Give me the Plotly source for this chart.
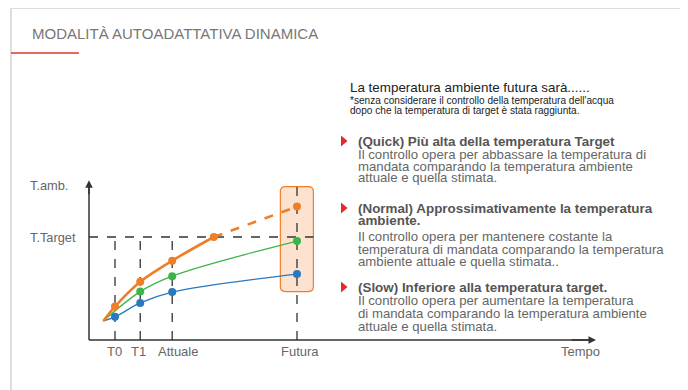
import plotly.graph_objects as go

# time positions (arbitrary units) and ambient temperature (arbitrary units, target = 10)
t_start = 0.55
t_labels = ['T0', 'T1', 'Attuale', 'Futura']
t_points = [1.0, 1.97, 3.2, 8.0]
t_cross = 4.8
t_target = 10.0

quick_t = [t_start, 1.0, 1.97, 3.2, 4.8]
quick_y = [1.85, 3.25, 5.65, 7.7, 10.0]
quick_future_t = [4.8, 8.0]
quick_future_y = [10.0, 12.95]

normal_t = [t_start, 1.97, 3.2, 8.0]
normal_y = [1.85, 4.7, 6.2, 9.6]

slow_t = [t_start, 1.0, 1.97, 3.2, 8.0]
slow_y = [1.85, 2.25, 3.6, 4.65, 6.4]

ORANGE = '#f07e26'
GREEN = '#3bb54a'
BLUE = '#2a78bd'
DARK = '#333333'
GREY = '#666666'
FONT = 'Liberation Sans, Arial, sans-serif'

OFF = 8                    # the page body adds an 8px margin
W, H = 688 - OFF, 390 - OFF
X0, Y0 = 89, 340           # pixel position of the axes origin (window coords)
SX, SY = 26.0, 10.3        # pixels per unit


def px(x):
    return (x - OFF) / W


def py(y):
    return 1 - (y - OFF) / H


fig = go.Figure()

fig.add_trace(go.Scatter(x=normal_t, y=normal_y, mode='lines', line=dict(color=GREEN, width=1.3, shape='spline'),
                         hoverinfo='skip'))
fig.add_trace(go.Scatter(x=normal_t[1:], y=normal_y[1:], mode='markers', marker=dict(color=GREEN, size=8),
                         hoverinfo='skip'))
fig.add_trace(go.Scatter(x=slow_t, y=slow_y, mode='lines', line=dict(color=BLUE, width=1.3, shape='spline'),
                         hoverinfo='skip'))
fig.add_trace(go.Scatter(x=slow_t[1:], y=slow_y[1:], mode='markers', marker=dict(color=BLUE, size=8),
                         hoverinfo='skip'))
fig.add_trace(go.Scatter(x=quick_t, y=quick_y, mode='lines', line=dict(color=ORANGE, width=2.6, shape='spline'),
                         hoverinfo='skip'))
fig.add_trace(go.Scatter(x=quick_future_t, y=quick_future_y, mode='lines',
                         line=dict(color=ORANGE, width=2.6, dash='dash'), hoverinfo='skip'))
fig.add_trace(go.Scatter(x=quick_t[1:] + quick_future_t[1:], y=quick_y[1:] + quick_future_y[1:], mode='markers',
                         marker=dict(color=ORANGE, size=8), hoverinfo='skip'))

shapes = []
# rounded box around the future values
bx0, bx1, by0, by1 = 7.36, 8.63, 4.7, 14.9
rx, ry = 5 / SX, 5 / SY
box = (f'M {bx0 + rx},{by0} L {bx1 - rx},{by0} Q {bx1},{by0} {bx1},{by0 + ry} '
       f'L {bx1},{by1 - ry} Q {bx1},{by1} {bx1 - rx},{by1} L {bx0 + rx},{by1} '
       f'Q {bx0},{by1} {bx0},{by1 - ry} L {bx0},{by0 + ry} Q {bx0},{by0} {bx0 + rx},{by0} Z')
shapes.append(dict(type='path', path=box, xref='x', yref='y', fillcolor='#fde3cf',
                   line=dict(color=ORANGE, width=1.2), layer='below'))

dash = dict(color=DARK, width=1.3, dash='dash')
shapes.append(dict(type='line', xref='x', yref='y', x0=0, x1=8.63, y0=t_target, y1=t_target, line=dash,
                   layer='below'))
for t in t_points[:3]:
    shapes.append(dict(type='line', xref='x', yref='y', x0=t, x1=t, y0=0, y1=t_target, line=dash, layer='below'))
shapes.append(dict(type='line', xref='x', yref='y', x0=t_points[3], x1=t_points[3], y0=0, y1=15.7, line=dash,
                   layer='below'))

# axes
shapes.append(dict(type='line', xref='x', yref='y', x0=0, x1=19.3, y0=0, y1=0, line=dict(color=DARK, width=1.5)))
shapes.append(dict(type='line', xref='x', yref='y', x0=0, x1=0, y0=0, y1=15.2, line=dict(color=DARK, width=1.5)))

# frame
shapes.append(dict(type='line', xref='paper', yref='paper', x0=px(10), x1=1, y0=py(8), y1=py(8),
                   line=dict(color='#dddddd', width=2)))
shapes.append(dict(type='line', xref='paper', yref='paper', x0=px(11), x1=px(11), y0=py(8), y1=0,
                   line=dict(color='#dddddd', width=2)))
shapes.append(dict(type='line', xref='paper', yref='paper', x0=px(11), x1=px(79), y0=py(53), y1=py(53),
                   line=dict(color='#e5332a', width=1.3)))

# red bullets
for yb in [141, 208, 287]:
    shapes.append(dict(type='path', xref='paper', yref='paper',
                       path=f'M {px(341)},{py(yb - 5.5)} L {px(341)},{py(yb + 5.5)} L {px(347.5)},{py(yb)} Z',
                       fillcolor='#e8262b', line=dict(width=0)))

ann = []


def text(x, y, s, size=13.2, color=GREY, anchor='left', bold=False):
    if bold:
        s = f'<b>{s}</b>'
    ann.append(dict(x=px(x), y=py(y), xref='paper', yref='paper', text=s, showarrow=False,
                    xanchor=anchor, yanchor='middle', xshift=-2 if anchor == 'left' else 0,
                    font=dict(family=FONT, size=size, color=color)))


text(32, 33, 'MODALITÀ AUTOADATTATIVA DINAMICA', size=15, color='#777777')

# arrow heads
ann.append(dict(x=19.5, y=0, ax=18.5, ay=0, xref='x', yref='y', axref='x', ayref='y', text='',
                showarrow=True, arrowhead=2, arrowsize=1, arrowwidth=1.5, arrowcolor=DARK))
ann.append(dict(x=0, y=15.5, ax=0, ay=14.0, xref='x', yref='y', axref='x', ayref='y', text='',
                showarrow=True, arrowhead=2, arrowsize=1, arrowwidth=1.5, arrowcolor=DARK))

text(30, 185, 'T.amb.', size=12.8)
text(30, 237, 'T.Target', size=12.8)
for lab, xc in zip(t_labels, [114.5, 138.5, 178, 300]):
    text(xc, 351, lab, size=13, anchor='center')
text(580, 351, 'Tempo', size=13, anchor='center')

text(350, 87, 'La temperatura ambiente futura sarà......', size=13.4, color='#222222')
text(350, 100, "*senza considerare il controllo della temperatura dell'acqua", size=10.1, color='#222222')
text(350, 111, 'dopo che la temperatura di target è stata raggiunta.', size=10.1, color='#222222')

blocks = [
    ([(141, '(Quick) Più alta della temperatura Target')],
     [(154, 'Il controllo opera per abbassare la temperatura di'),
      (166, 'mandata comparando la temperatura ambiente'),
      (177, 'attuale e quella stimata.')]),
    ([(208, '(Normal) Approssimativamente la temperatura'), (220, 'ambiente.')],
     [(236, 'Il controllo opera per mantenere costante la'),
      (249, 'temperatura di mandata comparando la temperatura'),
      (261, 'ambiente attuale e quella stimata..')]),
    ([(287, '(Slow) Inferiore alla temperatura target.')],
     [(300, 'Il controllo opera per aumentare la temperatura'),
      (313, 'di mandata comparando la temperatura ambiente'),
      (326, 'attuale e quella stimata.')]),
]
for heads, body in blocks:
    for y, h in heads:
        text(358, y, h, size=13.4, color='#555555', bold=True)
    for y, b in body:
        text(358, y, b, size=13.2, color=GREY)

fig.update_layout(
    width=W, height=H, margin=dict(l=0, r=0, t=0, b=0),
    paper_bgcolor='white', plot_bgcolor='white', showlegend=False,
    shapes=shapes, annotations=ann,
    xaxis=dict(range=[-(X0 - OFF) / SX, (W - (X0 - OFF)) / SX], visible=False, fixedrange=True),
    yaxis=dict(range=[-(H - (Y0 - OFF)) / SY, (Y0 - OFF) / SY], visible=False, fixedrange=True),
)

fig.write_html('out.html')
